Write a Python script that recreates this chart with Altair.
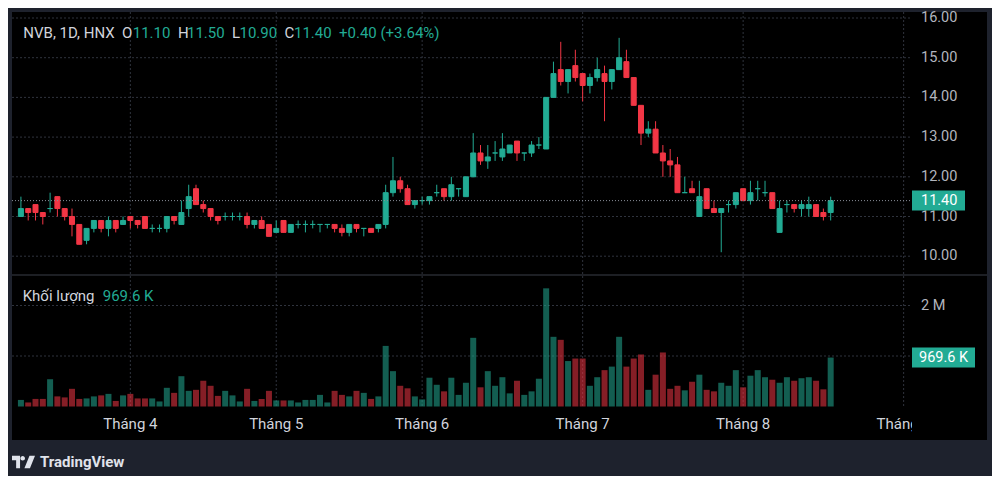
import altair as alt
import pandas as pd

# ---------------- data ----------------
opens = [11.0, 11.2, 11.3, 11.1, 11.2, 11.5, 11.2, 11.0, 10.8, 10.4,
         10.7, 10.9, 10.7, 10.9, 10.8, 11.0, 10.9, 11.0, 10.7, 10.7,
         10.7, 11.0, 10.8, 11.2, 11.7, 11.3, 11.2, 11.0, 11.0, 11.0,
         11.0, 11.0, 10.8, 10.9, 10.8, 10.6, 10.9, 10.6, 10.8, 10.8,
         10.8, 10.8, 10.8, 10.8, 10.7, 10.6, 10.8, 10.7, 10.7, 10.7,
         10.8, 11.6, 11.9, 11.7, 11.3, 11.4, 11.4, 11.6, 11.7, 11.5,
         11.7, 11.5, 12.0, 12.6, 12.4, 12.6, 12.5, 12.6, 12.9, 12.6,
         12.6, 12.8, 12.7, 14.0, 14.7, 14.4, 14.8, 14.6, 14.3, 14.5,
         14.6, 14.4, 14.7, 14.9, 14.5, 13.8, 13.1, 13.2, 12.6, 12.4,
         12.3, 11.6, 11.7, 11.0, 11.7, 11.2, 11.1, 11.3, 11.3, 11.7,
         11.4, 11.7, 11.6, 11.6, 10.6, 11.3, 11.3, 11.2, 11.2, 11.3,
         11.1, 11.1]
highs = [11.5, 11.2, 11.3, 11.1, 11.6, 11.5, 11.2, 11.2, 10.8, 10.7,
         10.9, 10.9, 11.0, 10.9, 11.0, 11.0, 10.9, 11.0, 10.8, 10.8,
         11.0, 11.0, 11.4, 11.8, 11.8, 11.4, 11.2, 11.0, 11.1, 11.1,
         11.1, 11.1, 10.9, 11.0, 10.8, 10.9, 10.9, 10.8, 10.9, 10.9,
         10.9, 10.8, 10.8, 10.8, 10.8, 10.8, 10.8, 10.7, 10.7, 10.8,
         11.8, 12.5, 12.0, 11.8, 11.4, 11.5, 11.5, 11.8, 11.7, 12.0,
         11.7, 12.0, 13.1, 12.8, 12.8, 12.9, 13.1, 12.8, 12.9, 12.6,
         12.9, 13.0, 14.0, 14.9, 15.4, 14.7, 15.2, 14.6, 14.6, 15.0,
         14.8, 14.7, 15.5, 15.2, 14.5, 13.8, 13.4, 13.4, 12.8, 12.7,
         12.5, 12.0, 11.9, 11.9, 11.7, 11.4, 11.2, 11.4, 11.6, 11.7,
         11.9, 11.9, 11.9, 11.6, 11.4, 11.4, 11.3, 11.4, 11.5, 11.3,
         11.2, 11.5]
lows = [11.0, 10.9, 10.9, 10.8, 11.1, 11.0, 10.9, 10.5, 10.3, 10.3,
        10.6, 10.6, 10.5, 10.6, 10.8, 10.7, 10.7, 10.7, 10.6, 10.6,
        10.6, 10.8, 10.8, 11.0, 11.3, 11.1, 10.9, 10.8, 10.9, 10.9,
        10.9, 10.7, 10.7, 10.7, 10.5, 10.6, 10.6, 10.6, 10.7, 10.6,
        10.7, 10.6, 10.7, 10.6, 10.5, 10.5, 10.6, 10.5, 10.6, 10.6,
        10.7, 11.5, 11.6, 11.3, 11.2, 11.3, 11.3, 11.5, 11.4, 11.4,
        11.5, 11.5, 12.0, 12.3, 12.2, 12.4, 12.4, 12.6, 12.4, 12.4,
        12.5, 12.7, 12.7, 14.0, 14.3, 14.1, 14.4, 13.9, 14.1, 14.4,
        13.4, 14.2, 14.7, 14.5, 13.8, 12.8, 13.0, 12.6, 12.0, 12.0,
        11.6, 11.6, 11.6, 11.0, 11.2, 11.1, 10.1, 11.1, 11.2, 11.4,
        11.3, 11.4, 11.5, 11.2, 10.6, 11.1, 11.1, 11.0, 11.0, 11.0,
        10.9, 10.9]
closes = [11.2, 11.1, 11.1, 11.0, 11.2, 11.2, 11.0, 10.8, 10.3, 10.7,
          10.9, 10.7, 10.9, 10.7, 10.9, 10.9, 10.8, 10.7, 10.7, 10.7,
          11.0, 10.9, 11.1, 11.5, 11.3, 11.2, 11.0, 10.9, 11.0, 11.0,
          11.0, 10.8, 10.9, 10.7, 10.5, 10.7, 10.6, 10.8, 10.8, 10.8,
          10.8, 10.8, 10.8, 10.7, 10.6, 10.8, 10.7, 10.7, 10.6, 10.8,
          11.6, 11.9, 11.7, 11.3, 11.4, 11.4, 11.5, 11.6, 11.5, 11.8,
          11.7, 12.0, 12.6, 12.4, 12.5, 12.6, 12.7, 12.8, 12.6, 12.6,
          12.8, 12.8, 14.0, 14.6, 14.4, 14.7, 14.5, 14.3, 14.5, 14.7,
          14.4, 14.7, 15.0, 14.5, 13.8, 13.1, 13.2, 12.6, 12.4, 12.3,
          11.6, 11.6, 11.6, 11.5, 11.2, 11.1, 11.2, 11.3, 11.6, 11.4,
          11.6, 11.7, 11.6, 11.2, 11.2, 11.3, 11.2, 11.3, 11.3, 11.0,
          11.0, 11.4]
volumes_m = [0.13, 0.08, 0.15, 0.15, 0.54, 0.20, 0.18, 0.35, 0.15, 0.16,
             0.20, 0.22, 0.25, 0.11, 0.22, 0.25, 0.16, 0.16, 0.16, 0.10,
             0.37, 0.27, 0.60, 0.31, 0.33, 0.51, 0.41, 0.21, 0.31, 0.22,
             0.10, 0.35, 0.11, 0.15, 0.31, 0.12, 0.12, 0.12, 0.08, 0.13,
             0.13, 0.23, 0.08, 0.31, 0.23, 0.20, 0.31, 0.27, 0.15, 0.20,
             1.20, 0.70, 0.41, 0.36, 0.20, 0.14, 0.57, 0.43, 0.30, 0.57,
             0.23, 0.47, 1.36, 0.38, 0.70, 0.41, 0.58, 0.26, 0.51, 0.23,
             0.30, 0.55, 2.34, 1.38, 1.32, 0.90, 0.95, 0.95, 0.41, 0.58,
             0.72, 0.79, 1.38, 0.79, 0.95, 1.03, 0.33, 0.63, 1.07, 0.35,
             0.41, 0.32, 0.49, 0.63, 0.33, 0.30, 0.47, 0.41, 0.72, 0.38,
             0.61, 0.72, 0.58, 0.53, 0.47, 0.58, 0.51, 0.56, 0.58, 0.51,
             0.34, 0.9696]

month_labels = ["Tháng 4", "Tháng 5", "Tháng 6", "Tháng 7", "Tháng 8", "Tháng 9"]
month_bar_index = [15, 35, 55, 77, 99, 121]
price_ticks = [10, 11, 12, 13, 14, 15, 16]
price_tick_labels = ["10.00", "11.00", "12.00", "13.00", "14.00", "15.00", "16.00"]
volume_grid_ticks = [1, 2]
volume_label_ticks = [2]
volume_tick_labels = ["2 M"]

symbol_info = "NVB, 1D, HNX"
ohlc_keys = ["O", "H", "L", "C"]
ohlc_values = ["11.10", "11.50", "10.90", "11.40"]
change_text = "+0.40 (+3.64%)"
volume_title = "Khối lượng"
last_volume_text = "969.6 K"
last_price = 11.40
last_price_text = "11.40"
last_volume = 0.9696
brand_text = "TradingView"

# ---------------- layout / style ----------------
W, H = 984, 468
STEP = 7.37
X0 = 8.0
x_dom = [-X0 / STEP, (W - X0) / STEP]
PX_PER_UNIT = 39.7
price_range = [10 + (16 - 10) * PX_PER_UNIT, 10]
vol_range = [398.5, 398.5 - 2 * 50.5]

FRAME = "#1e222d"
BLACK = "#000000"
GRID = "#2f333d"
TEXT = "#d1d4dc"
AXIS_TEXT = "#b2b5be"
UP = "#22ab94"
DOWN = "#f23645"
FONT = "Roboto"
FS = 15

xs = alt.Scale(domain=x_dom, nice=False, zero=False)
ps = alt.Scale(domain=[10, 16], range=price_range, nice=False, zero=False)
vs = alt.Scale(domain=[0, 2], range=vol_range, nice=False, zero=False)

n = len(opens)
candles = pd.DataFrame({
    "i": list(range(n)), "o": opens, "h": highs, "l": lows, "c": closes, "v": volumes_m,
})
up_color = alt.when("datum.c >= datum.o").then(alt.value(UP)).otherwise(alt.value(DOWN))
up_stroke = alt.when("datum.c >= datum.o").then(alt.value(UP)).otherwise(alt.value(DOWN))

one = alt.Data(values=[{"k": 0}])

bg = alt.Chart(one).mark_rect(color=BLACK).encode(
    x=alt.value(4), x2=alt.value(979), y=alt.value(4), y2=alt.value(432))

vgrid = alt.Chart(pd.DataFrame({"i": month_bar_index})).mark_rule(
    color=GRID, strokeDash=[2, 2], strokeWidth=1).encode(
    x=alt.X("i:Q", scale=xs, axis=None), y=alt.value(4), y2=alt.value(399))

pgrid = alt.Chart(pd.DataFrame({"p": price_ticks})).mark_rule(
    color=GRID, strokeDash=[2, 2], strokeWidth=1).encode(
    y=alt.Y("p:Q", scale=ps, axis=None), x=alt.value(4), x2=alt.value(902))

vgrid2 = alt.Chart(pd.DataFrame({"v": volume_grid_ticks})).mark_rule(
    color=GRID, strokeDash=[2, 2], strokeWidth=1).encode(
    y=alt.Y("v:Q", scale=vs, axis=None), x=alt.value(4), x2=alt.value(902))

sep = alt.Chart(one).mark_rule(color="#3a3e48", strokeWidth=1).encode(
    y=alt.value(267), x=alt.value(4), x2=alt.value(979))

base = alt.Chart(candles)
wicks = base.mark_rule(strokeWidth=1).encode(
    x=alt.X("i:Q", scale=xs, axis=None),
    y=alt.Y("l:Q", scale=ps, axis=None), y2="h:Q", color=up_color)
bodies = base.mark_bar(size=5, strokeWidth=1).encode(
    x=alt.X("i:Q", scale=xs, axis=None),
    y=alt.Y("o:Q", scale=ps, axis=None), y2="c:Q", color=up_color, stroke=up_stroke)
vols = base.transform_calculate(zero="0").mark_bar(size=6, opacity=0.55).encode(
    x=alt.X("i:Q", scale=xs, axis=None),
    y=alt.Y("v:Q", scale=vs, axis=None), y2="zero:Q", color=up_color)

pline = alt.Chart(pd.DataFrame({"p": [last_price]})).mark_rule(
    color="#8a8e98", strokeDash=[1, 2], strokeWidth=1).encode(
    y=alt.Y("p:Q", scale=ps, axis=None), x=alt.value(4), x2=alt.value(902))

plabels = alt.Chart(pd.DataFrame({"p": price_ticks, "t": price_tick_labels})).mark_text(
    align="left", baseline="middle", font=FONT, fontSize=14.5, color=AXIS_TEXT).encode(
    y=alt.Y("p:Q", scale=ps, axis=None), x=alt.value(913), text="t:N")

pbox = alt.Chart(pd.DataFrame({"p": [last_price]})).mark_rect(
    color=UP, yOffset=-10, y2Offset=10).encode(
    y=alt.Y("p:Q", scale=ps, axis=None), y2="p:Q", x=alt.value(904), x2=alt.value(957))
ptext = alt.Chart(pd.DataFrame({"p": [last_price], "t": [last_price_text]})).mark_text(
    align="left", baseline="middle", font=FONT, fontSize=14.5, color="#ffffff").encode(
    y=alt.Y("p:Q", scale=ps, axis=None), x=alt.value(913), text="t:N")

vlabels = alt.Chart(pd.DataFrame({"v": volume_label_ticks, "t": volume_tick_labels})).mark_text(
    align="left", baseline="middle", font=FONT, fontSize=14.5, color=AXIS_TEXT).encode(
    y=alt.Y("v:Q", scale=vs, axis=None), x=alt.value(913), text="t:N")
vbox = alt.Chart(pd.DataFrame({"v": [last_volume]})).mark_rect(
    color=UP, yOffset=-10, y2Offset=10).encode(
    y=alt.Y("v:Q", scale=vs, axis=None), y2="v:Q", x=alt.value(904), x2=alt.value(967))
vtext = alt.Chart(pd.DataFrame({"v": [last_volume], "t": [last_volume_text]})).mark_text(
    align="left", baseline="middle", font=FONT, fontSize=14.5, color="#ffffff").encode(
    y=alt.Y("v:Q", scale=vs, axis=None), x=alt.value(911), text="t:N")

# header legend texts (x positions in chart pixels)
head_x = [15.3, 114.0, 124.7, 170.0, 179.0, 224.0, 231.5, 276.5, 286.0, 331.0]
head_texts = [symbol_info]
head_cols = [TEXT]
for k, v in zip(ohlc_keys, ohlc_values):
    head_texts += [k, v]
    head_cols += [TEXT, UP]
head_texts.append(change_text)
head_cols.append(UP)
header = pd.DataFrame({"t": head_texts, "px": head_x, "col": head_cols})
header_layer = alt.Chart(header).mark_text(
    align="left", baseline="middle", font=FONT, fontSize=FS).encode(
    x=alt.X("px:Q", scale=None), y=alt.value(24.5), text="t:N",
    color=alt.Color("col:N", scale=None))

vol_head = pd.DataFrame({"t": [volume_title, last_volume_text], "px": [14.7, 94.7],
                         "col": [TEXT, UP]})
vol_head_layer = alt.Chart(vol_head).mark_text(
    align="left", baseline="middle", font=FONT, fontSize=FS).encode(
    x=alt.X("px:Q", scale=None), y=alt.value(287.5), text="t:N",
    color=alt.Color("col:N", scale=None))

months = alt.Chart(pd.DataFrame({"i": month_bar_index, "t": month_labels})).mark_text(
    align="center", baseline="middle", font=FONT, fontSize=FS, color=TEXT).encode(
    x=alt.X("i:Q", scale=xs, axis=None), y=alt.value(416), text="t:N")
cover = alt.Chart(one).mark_rect(color=BLACK).encode(
    x=alt.value(904), x2=alt.value(979), y=alt.value(402), y2=alt.value(430))

logo_path = ("M-1,-0.55 L-0.3,-0.55 L-0.3,0.55 L-0.64,0.55 L-0.64,-0.15 L-1,-0.15 Z "
             "M-0.27,-0.33 A0.2,0.2 0 1,0 0.13,-0.33 A0.2,0.2 0 1,0 -0.27,-0.33 Z "
             "M0.08,0.55 L0.52,-0.55 L1,-0.55 L0.56,0.55 Z")
logo = alt.Chart(one).mark_point(shape=logo_path, size=529, filled=True, opacity=1,
                                 color="#e0e3eb").encode(
    x=alt.value(15.5), y=alt.value(454))
brand = alt.Chart(pd.DataFrame({"t": [brand_text]})).mark_text(
    align="left", baseline="middle", font=FONT, fontSize=15, fontWeight="bold",
    color="#e0e3eb").encode(x=alt.value(32), y=alt.value(454), text="t:N")

chart = alt.layer(
    bg, vgrid, pgrid, vgrid2, sep, vols, wicks, bodies, pline,
    plabels, pbox, ptext, vlabels, vbox, vtext,
    header_layer, vol_head_layer, months, cover, logo, brand,
).resolve_scale(y="independent").properties(
    width=W, height=H, background=FRAME, padding=0,
    autosize=alt.AutoSizeParams(type="none"),
).configure_view(strokeWidth=0)

chart.save("out.html", embed_options={"renderer": "svg", "actions": False})
